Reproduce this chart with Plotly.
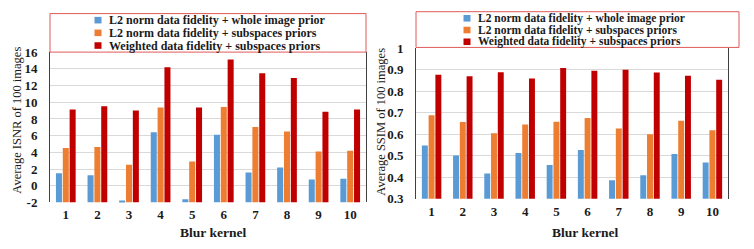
import plotly.graph_objects as go

W, H = 754, 249

kernels = ["1", "2", "3", "4", "5", "6", "7", "8", "9", "10"]
series_names = [
    "L2 norm data fidelity + whole image prior",
    "L2 norm data fidelity + subspaces priors",
    "Weighted data fidelity + subspaces priors",
]
colors = ["#5b9bd5", "#ed7d31", "#c00000"]

isnr_whole = [1.51, 1.25, -1.77, 6.42, -1.62, 6.11, 1.58, 2.19, 0.75, 0.83]
isnr_sub = [4.53, 4.64, 2.53, 9.36, 2.91, 9.43, 7.02, 6.49, 4.11, 4.19]
isnr_weighted = [9.13, 9.51, 9.02, 14.19, 9.36, 15.13, 13.47, 12.90, 8.87, 9.13]

ssim_whole = [0.548, 0.501, 0.417, 0.513, 0.457, 0.527, 0.386, 0.409, 0.508, 0.469]
ssim_sub = [0.688, 0.657, 0.605, 0.645, 0.658, 0.676, 0.627, 0.600, 0.663, 0.619]
ssim_weighted = [0.877, 0.870, 0.889, 0.860, 0.909, 0.896, 0.900, 0.887, 0.873, 0.854]

isnr_ticks = [-2, 0, 2, 4, 6, 8, 10, 12, 14, 16]
ssim_ticks = [0.3, 0.4, 0.5, 0.6, 0.7, 0.8, 0.9, 1.0]
ssim_ticktext = ["0.3", "0.4", "0.5", "0.6", "0.7", "0.8", "0.9", "1"]
ISNR_BASE = -2

FONT = "'Liberation Serif', 'Times New Roman', 'DejaVu Serif', serif"

def px_x(p):
    return p / W

def px_y(p):
    return (H - p) / H

fig = go.Figure()

for name, vals, col in zip(series_names, [isnr_whole, isnr_sub, isnr_weighted], colors):
    fig.add_trace(go.Bar(
        x=kernels, y=[v - ISNR_BASE for v in vals], base=ISNR_BASE,
        name=name, marker=dict(color=col, line=dict(width=0)),
        customdata=vals, hovertemplate="%{customdata}<extra></extra>",
        xaxis="x", yaxis="y", showlegend=False,
    ))
for name, vals, col in zip(series_names, [ssim_whole, ssim_sub, ssim_weighted], colors):
    fig.add_trace(go.Bar(
        x=kernels, y=vals, name=name, marker=dict(color=col, line=dict(width=0)),
        xaxis="x2", yaxis="y2", showlegend=False,
    ))

tickfont = dict(family=FONT, size=13, color="#1a1a1a", weight="bold")

# plot areas (pixels)
L = dict(x0=50, x1=366, y0=48, y1=208)
R = dict(x0=416, x1=728, y0=44, y1=204)

axis_common = dict(tickfont=tickfont, showgrid=False, zeroline=False, ticks="")
fig.update_layout(
    width=W, height=H,
    margin=dict(l=0, r=0, t=0, b=0),
    font=dict(family=FONT),
    paper_bgcolor="white", plot_bgcolor="white",
    barmode="group", bargap=0.35, bargroupgap=0.12,
    xaxis=dict(domain=[px_x(L["x0"]), px_x(L["x1"])], anchor="y", type="category",
               ticklabelstandoff=3, showline=False, **axis_common),
    yaxis=dict(domain=[px_y(L["y1"]), px_y(L["y0"])], anchor="x", range=[-2, 16],
               tickvals=isnr_ticks, ticktext=[str(t) for t in isnr_ticks],
               showgrid=True, gridcolor="#d9d9d9", gridwidth=1,
               showline=True, linecolor="#404040", linewidth=1, mirror=True,
               ticklabelstandoff=9, tickfont=tickfont, zeroline=False, ticks=""),
    xaxis2=dict(domain=[px_x(R["x0"]), px_x(R["x1"])], anchor="y2", type="category",
                ticklabelstandoff=3, showline=False, **axis_common),
    yaxis2=dict(domain=[px_y(R["y1"]), px_y(R["y0"])], anchor="x2", range=[0.3, 1.0],
                tickvals=ssim_ticks, ticktext=ssim_ticktext,
                showgrid=True, gridcolor="#d9d9d9", gridwidth=1,
                showline=True, linecolor="#404040", linewidth=1, mirror=True,
                ticklabelstandoff=9, tickfont=tickfont, zeroline=False, ticks=""),
    showlegend=False,
)

annotations = []
shapes = []

# axis titles
annotations.append(dict(text="Average ISNR of 100 images", x=px_x(17), y=px_y(121),
                        xref="paper", yref="paper", showarrow=False, textangle=-90,
                        xanchor="center", yanchor="middle",
                        font=dict(family=FONT, size=12.5, color="#1a1a1a")))
annotations.append(dict(text="Average SSIM of 100 images", x=px_x(381), y=px_y(122),
                        xref="paper", yref="paper", showarrow=False, textangle=-90,
                        xanchor="center", yanchor="middle",
                        font=dict(family=FONT, size=12.5, color="#1a1a1a")))
annotations.append(dict(text="Blur kernel", x=px_x(213), y=px_y(240),
                        xref="paper", yref="paper", showarrow=False,
                        xanchor="center", yanchor="middle",
                        font=dict(family=FONT, size=13.5, color="#1a1a1a", weight="bold")))
annotations.append(dict(text="Blur kernel", x=px_x(585), y=px_y(240),
                        xref="paper", yref="paper", showarrow=False,
                        xanchor="center", yanchor="middle",
                        font=dict(family=FONT, size=13.5, color="#1a1a1a", weight="bold")))

# legend boxes (drawn in each chart)
legend_specs = [
    dict(box=(50, 7, 366, 48), mx=98, tx=107, rows=[14, 27.5, 41], size=12),
    dict(box=(416, 5, 739, 43), mx=467, tx=476, rows=[12, 24.5, 37], size=11.5),
]
for spec in legend_specs:
    bx0, by0, bx1, by1 = spec["box"]
    shapes.append(dict(type="rect", xref="paper", yref="paper",
                       x0=px_x(bx0), x1=px_x(bx1), y0=px_y(by1), y1=px_y(by0),
                       line=dict(color="#e05a5a", width=1), fillcolor="white", layer="above"))
    for name, col, ry in zip(series_names, colors, spec["rows"]):
        shapes.append(dict(type="rect", xref="paper", yref="paper",
                           x0=px_x(spec["mx"] - 3.5), x1=px_x(spec["mx"] + 3.5),
                           y0=px_y(ry + 3.5), y1=px_y(ry - 3.5),
                           line=dict(width=0), fillcolor=col, layer="above"))
        annotations.append(dict(text=name, x=px_x(spec["tx"]), y=px_y(ry),
                                xref="paper", yref="paper", showarrow=False,
                                xanchor="left", yanchor="middle",
                                font=dict(family=FONT, size=spec["size"], color="#1a1a1a",
                                          weight="bold")))

fig.update_layout(annotations=annotations, shapes=shapes)

fig.write_html(
    "out.html", config={"displayModeBar": False},
    post_script=("document.documentElement.style.margin='0';"
                 "document.body.style.margin='0';"
                 "document.documentElement.style.overflow='hidden';"
                 "document.body.style.overflow='hidden';"),
)
